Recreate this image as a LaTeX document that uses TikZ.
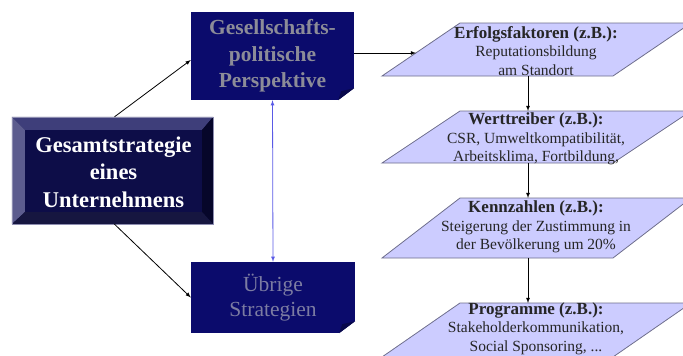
\documentclass[tikz,border=0pt]{standalone}
\usepackage{fontspec}
\setmainfont{Liberation Serif}
\definecolor{navy}{RGB}{11,11,108}
\definecolor{facecol}{RGB}{13,13,72}
\definecolor{bevtop}{RGB}{62,62,122}
\definecolor{bevleft}{RGB}{92,92,142}
\definecolor{bevright}{RGB}{6,6,42}
\definecolor{bevbot}{RGB}{22,22,64}
\definecolor{lavender}{RGB}{204,204,255}
\definecolor{paraline}{RGB}{110,110,140}
\definecolor{greytxt}{RGB}{140,140,152}
\definecolor{greyblue}{RGB}{124,124,162}
\definecolor{linkblue}{RGB}{90,90,230}
\tikzset{
  gsbox/.style={rectangle,fill=facecol,minimum width=201pt,minimum height=107pt,
    inner sep=0pt,text=white,align=center,font=\fontsize{22.5}{27.5}\selectfont\bfseries},
  stratbox/.style={rectangle,fill=navy,inner sep=0pt,align=center},
  paratext/.style={align=center,text=black!85,font=\fontsize{15.5}{18.5}\selectfont},
  para/.style={fill=lavender,draw=paraline,line width=.8pt},
  link/.style={->,line width=.8pt}
}
\newcommand{\ttl}[1]{{\fontsize{17}{17.5}\selectfont\bfseries #1}}
\begin{document}
\begin{tikzpicture}[x=1pt,y=-1pt,>=latex]
	\useasboundingbox (0,0) rectangle (683,356);
	\clip (0,0) rectangle (683,356);

	% left: bevelled box
	\node[gsbox] (gs) at (112.5,170.5) {};
	\fill[bevtop] (gs.north west) -- (gs.north east) -- ([xshift=-11pt,yshift=-13pt]gs.north east) -- ([xshift=13pt,yshift=-13pt]gs.north west) -- cycle;
	\fill[bevleft] (gs.north west) -- ([xshift=13pt,yshift=-13pt]gs.north west) -- ([xshift=13pt,yshift=12pt]gs.south west) -- (gs.south west) -- cycle;
	\fill[bevright] (gs.north east) -- (gs.south east) -- ([xshift=-11pt,yshift=12pt]gs.south east) -- ([xshift=-11pt,yshift=-13pt]gs.north east) -- cycle;
	\fill[bevbot] (gs.south west) -- ([xshift=13pt,yshift=12pt]gs.south west) -- ([xshift=-11pt,yshift=12pt]gs.south east) -- (gs.south east) -- cycle;
	\draw[bevleft!70!white,line width=.6pt] (gs.north west) rectangle (gs.south east);
	\node[gsbox,fill=none,minimum width=0pt,minimum height=0pt] at (113.5,172) {Gesamtstrategie\\eines\\Unternehmens};

	% middle: two strategy boxes with folded corner
	\node[stratbox,minimum width=163pt,minimum height=88pt,text=greytxt,
	      font=\fontsize{21.5}{26.5}\selectfont\bfseries] (gp) at (272.5,56) {Gesellschafts-\\politische\\Perspektive};
	\node[stratbox,minimum width=164pt,minimum height=71pt,text=greyblue,
	      font=\fontsize{21.5}{25}\selectfont] (gu) at (273,297.5) {Übrige\\Strategien};
	\foreach \b in {gp,gu}{
	  \fill[white] ([yshift=12pt]\b.south east) -- (\b.south east) -- ([xshift=-16pt]\b.south east) -- cycle;
	  \fill[navy!70!black] ([yshift=12pt]\b.south east) -- ([xshift=-16pt]\b.south east) -- ([xshift=-13pt,yshift=9pt]\b.south east) -- cycle;
	}

	\draw[link] ([xshift=2pt]gs.north) -- ([yshift=-4pt]gp.west);
	\draw[link] ([xshift=2pt]gs.south) -- (gu.west);
	\draw[link,<->,linkblue] (gp.south) -- (gu.north);

	% right: parallelograms
	\foreach \i/\t/\b in {1/23/76,2/111/163,3/198/258,4/303/357}{
	  \draw[para] (382,\b) -- (460,\t) -- (691,\t) -- (613,\b) -- cycle;
	  \coordinate (top\i) at (528,\t);
	  \coordinate (bot\i) at (528,\b);
	}
	\coordinate (f1in) at (416,53);

	\node[paratext] (erfolg) at (536,51) {\ttl{Erfolgsfaktoren (z.B.):}\\Reputationsbildung\\am Standort};
	\node[paratext] (wert) at (536,139) {\ttl{Werttreiber (z.B.):}\\CSR, Umweltkompatibilität,\\Arbeitsklima, Fortbildung,};
	\node[paratext] (kenn) at (536,227) {\ttl{Kennzahlen (z.B.):}\\Steigerung der Zustimmung in\\der Bevölkerung um 20\%};
	\node[paratext] (prog) at (536,328.5) {\ttl{Programme (z.B.):}\\Stakeholderkommunikation,\\Social Sponsoring, ...};

	\draw[link] ([yshift=3pt]gp.east) -- (f1in);
	\draw[link] (bot1) -- (top2);
	\draw[link] (bot2) -- (top3);
	\draw[link] (bot3) -- (top4);

\end{tikzpicture}
\end{document}
